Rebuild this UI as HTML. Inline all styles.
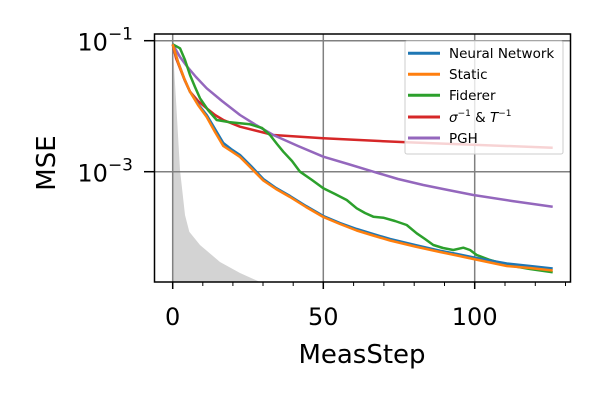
<!DOCTYPE html>
<html><head><style>body{margin:0;background:#fff}svg{display:block}</style></head><body>
<svg width="600" height="400" xmlns="http://www.w3.org/2000/svg" font-family="DejaVu Sans, Liberation Sans, sans-serif">
<rect width="600" height="400" fill="#fff"/>
<polygon points="172.7,44 176,100 180,170 185,215 189.3,231.7 200,245 220,262 240,273 260,282 172.7,282" fill="#d3d3d3"/>
<g stroke="#808080" stroke-width="1.5">
<line x1="172.7" y1="34" x2="172.7" y2="282"/><line x1="323.3" y1="34" x2="323.3" y2="282"/><line x1="474.7" y1="34" x2="474.7" y2="282"/>
<line x1="155" y1="40.7" x2="570" y2="40.7"/><line x1="155" y1="171.7" x2="570" y2="171.7"/>
</g>
<g fill="none" stroke-width="2.5" stroke-linejoin="round">
<polyline stroke="#d62728" points="172.7,44.3 176,58 180,68.3 185,81 190,91.7 198,101 206.7,108.3 215,115 223.3,120 240,126.7 273.3,135 323.3,138.3 406.7,142.3 552.7,147.7"/>
<polyline stroke="#9467bd" points="172.7,44.3 180,57 186.7,66 196,77 206.7,88.3 222,101 240,115 256,125 273.3,135 298,146 323.3,156.7 348,164 373.3,171.7 398,179 423.3,185 448,190 473.3,195 512,201 552.7,206.7"/>
<polyline stroke="#2ca02c" points="172.7,44.3 180,48.3 185,60 190,75 195,87 200,98.3 208,110 216.7,120 230,122.3 250,124.3 262,128 270,135 277,144 283.3,151.7 292,161 300,171.7 312,180 323.3,188.3 335,194 346.7,200 356.7,208.3 365,213 373.3,216.7 383.3,217.7 395,221 406.7,225 416.7,233.3 425,239 433.3,245 443,248 453.3,250 463.3,247.7 470,250 476.7,255 490,260 506.7,265 530,269 552.7,272.3"/>
<polyline stroke="#1f77b4" points="172.7,44.3 178,62 184,78 190,91.7 198,104 206.7,115 215,129 223.3,143 231,149 240,155 251,166 263.3,179 276,188 290,196 306,206 323.3,216 340,223 356.7,229 373,234 390,239 415,245 440,250.7 457,254 473.3,257.3 490,260.5 506.7,263.5 530,266 552.7,268.5"/>
<polyline stroke="#ff7f0e" points="172.7,44.3 178,62 184,78 190,91.7 198,105 206.7,117 215,132 223.3,146 231,151 240,157 251,168 263.3,180.5 276,189 290,197 306,207 323.3,217 340,224 356.7,230.5 373,235.5 390,240.5 415,246.5 440,252 457,255.5 473.3,259 490,262.5 506.7,266 530,268 552.7,270.5"/>
</g>
<rect x="405" y="41" width="158" height="113" rx="2" fill="#fff" fill-opacity="0.8" stroke="#ccc" stroke-width="1"/>
<g stroke-width="3">
<line x1="408" y1="53.3" x2="440" y2="53.3" stroke="#1f77b4"/>
<line x1="408" y1="74.3" x2="440" y2="74.3" stroke="#ff7f0e"/>
<line x1="408" y1="95.3" x2="440" y2="95.3" stroke="#2ca02c"/>
<line x1="408" y1="117" x2="440" y2="117" stroke="#d62728"/>
<line x1="408" y1="138" x2="440" y2="138" stroke="#9467bd"/>
</g>
<g font-size="13.5" fill="#000">
<text x="449" y="58">Neural Network</text>
<text x="449" y="79">Static</text>
<text x="449" y="100">Fiderer</text>
<text x="449" y="122"><tspan font-style="italic">σ</tspan><tspan font-size="9" dy="-6">−1</tspan><tspan dy="6"> &amp; </tspan><tspan font-style="italic">T</tspan><tspan font-size="9" dy="-6">−1</tspan></text>
<text x="449" y="143">PGH</text>
</g>
<rect x="154.5" y="34" width="416" height="248" fill="none" stroke="#000" stroke-width="1.5"/>
<g stroke="#000" stroke-width="1.5">
<line x1="172.7" y1="282" x2="172.7" y2="289"/><line x1="323.3" y1="282" x2="323.3" y2="289"/><line x1="474.7" y1="282" x2="474.7" y2="289"/>
<line x1="144" y1="40.7" x2="154.5" y2="40.7"/><line x1="144" y1="171.7" x2="154.5" y2="171.7"/>
</g>
<g stroke="#000" stroke-width="1">
<line x1="202.8" y1="282" x2="202.8" y2="286"/><line x1="232.9" y1="282" x2="232.9" y2="286"/><line x1="263" y1="282" x2="263" y2="286"/><line x1="293.2" y1="282" x2="293.2" y2="286"/>
<line x1="353.6" y1="282" x2="353.6" y2="286"/><line x1="383.9" y1="282" x2="383.9" y2="286"/><line x1="414.2" y1="282" x2="414.2" y2="286"/><line x1="444.5" y1="282" x2="444.5" y2="286"/>
<line x1="505" y1="282" x2="505" y2="286"/><line x1="535.3" y1="282" x2="535.3" y2="286"/><line x1="565.5" y1="282" x2="565.5" y2="286"/>
</g>
<g font-size="24" fill="#000">
<text x="172.7" y="325" text-anchor="middle">0</text>
<text x="323.3" y="325" text-anchor="middle">50</text>
<text x="474.7" y="325" text-anchor="middle">100</text>
<text x="133" y="50.5" text-anchor="end">10<tspan font-size="17" dy="-11">−1</tspan></text>
<text x="133" y="181.5" text-anchor="end">10<tspan font-size="17" dy="-11">−3</tspan></text>
<text x="362" y="363" text-anchor="middle" font-size="26">MeasStep</text>
<text transform="translate(55,163) rotate(-90)" text-anchor="middle" font-size="26">MSE</text>
</g>
</svg>
</body></html>
